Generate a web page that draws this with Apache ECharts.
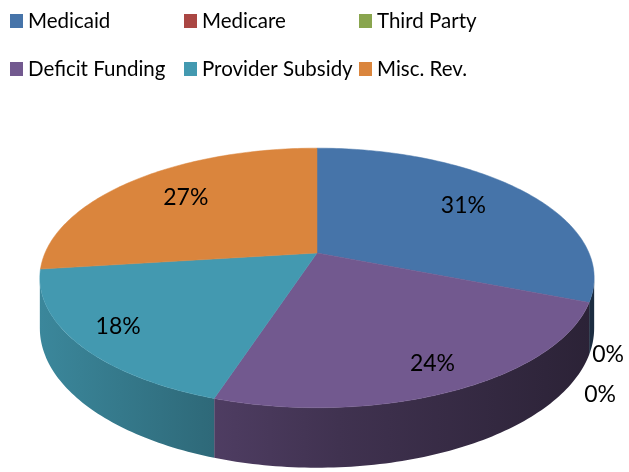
<!DOCTYPE html>
<html>
<head>
<meta charset="utf-8">
<script src="https://cdn.jsdelivr.net/npm/echarts@6/dist/echarts.min.js"></script>
<style>
html,body{margin:0;padding:0;background:#fff;}
#chart{width:629px;height:472px;}
</style>
</head>
<body>
<div id="chart"></div>
<script>
// ---- data ----
const categories = ['Medicaid', 'Medicare', 'Third Party', 'Deficit Funding', 'Provider Subsidy', 'Misc. Rev.'];
const values = [31, 0, 0, 24, 18, 27];
const colors = ['#4674A9', '#AA4643', '#89A54E', '#72598F', '#4399B0', '#DA853D'];
const legendColumns = [['Medicaid', 'Deficit Funding'], ['Medicare', 'Provider Subsidy'], ['Third Party', 'Misc. Rev.']];

// ---- 3D pie geometry (style) ----
const X0 = 317, Y0 = 253, A = 272, B = 125, K = 0.192, H = 48.5;
const TWO_PI = Math.PI * 2;
const total = values.reduce((s, x) => s + x, 0);

function proj(a, r, h) {
  const u = r * Math.sin(a), v = -r * Math.cos(a);
  const w = 1 - K * v;
  return [X0 + A * u / w, Y0 + (B * v + H * h) / w];
}
function arc(a0, a1, h) {
  const pts = [];
  const n = Math.max(2, Math.ceil(Math.abs(a1 - a0) / (Math.PI / 180)));
  for (let k = 0; k <= n; k++) pts.push(proj(a0 + (a1 - a0) * k / n, 1, h));
  return pts;
}
function shade(hex, f) {
  const n = parseInt(hex.slice(1), 16);
  const r = Math.round(((n >> 16) & 255) * f), g = Math.round(((n >> 8) & 255) * f), b = Math.round((n & 255) * f);
  return 'rgb(' + r + ',' + g + ',' + b + ')';
}
const aL = Math.acos(-K), aR = TWO_PI - aL;

function renderSlice(params, api) {
  const i = params.seriesIndex;
  const val = api.value(0);
  const start = values.slice(0, i).reduce((s, x) => s + x, 0);
  const a0 = start / total * TWO_PI, a1 = (start + val) / total * TWO_PI;
  const base = colors[i];
  const children = [];
  if (val > 0) {
    const s = Math.max(a0, aL), e = Math.min(a1, aR);
    if (e > s) {
      const pts = arc(s, e, 0).concat(arc(e, s, 1));
      children.push({
        type: 'polygon', z2: 1, silent: true,
        shape: { points: pts },
        style: {
          fill: {
            type: 'linear', x: 40, y: 0, x2: 594, y2: 0, global: true,
            colorStops: [
              { offset: 0, color: shade(base, 0.88) },
              { offset: 0.29, color: shade(base, 0.70) },
              { offset: 0.54, color: shade(base, 0.56) },
              { offset: 1, color: shade(base, 0.38) }
            ]
          }
        }
      });
    }
    const top = [proj(0, 0, 0)].concat(arc(a0, a1, 0));
    children.push({
      type: 'polygon', z2: 5, silent: true,
      shape: { points: top },
      style: { fill: base, stroke: base, lineWidth: 0.5 }
    });
  }
  const pct = Math.round(val / total * 100) + '%';
  let lx, ly;
  if (val > 0) {
    const am = (a0 + a1) / 2;
    const vm = -Math.cos(am);
    const p = proj(am, vm > 0 ? 0.85 : 0.7, 0);
    lx = p[0]; ly = p[1] - 2;
  } else {
    const j = values.slice(0, i).filter(x => x === 0).length;
    const p = proj(a0, 1, 1);
    lx = p[0] + 19 - 8 * j; ly = p[1] + 40 * j;
  }
  children.push({
    type: 'text', z2: 10, silent: true,
    x: lx, y: ly,
    style: { text: pct, fill: '#000', fontFamily: 'Lato', fontSize: 23, align: 'center', verticalAlign: 'middle' }
  });
  return { type: 'group', children: children };
}

const chart = echarts.init(document.getElementById('chart'), null, { renderer: 'canvas' });
chart.setOption({
  animation: false,
  backgroundColor: '#fff',
  legend: legendColumns.map((col, c) => ({
    data: col,
    orient: 'vertical',
    left: [10, 184, 359][c],
    top: 9,
    padding: 0,
    itemWidth: 13,
    itemHeight: 14,
    itemGap: 24,
    icon: 'rect',
    selectedMode: false,
    textStyle: { fontFamily: 'Lato', fontSize: 20.5, lineHeight: 24, color: '#000' }
  })),
  series: categories.map((name, i) => ({
    type: 'custom',
    name: name,
    coordinateSystem: 'none',
    itemStyle: { color: colors[i] },
    renderItem: renderSlice,
    data: [values[i]]
  }))
});
</script>
</body>
</html>
